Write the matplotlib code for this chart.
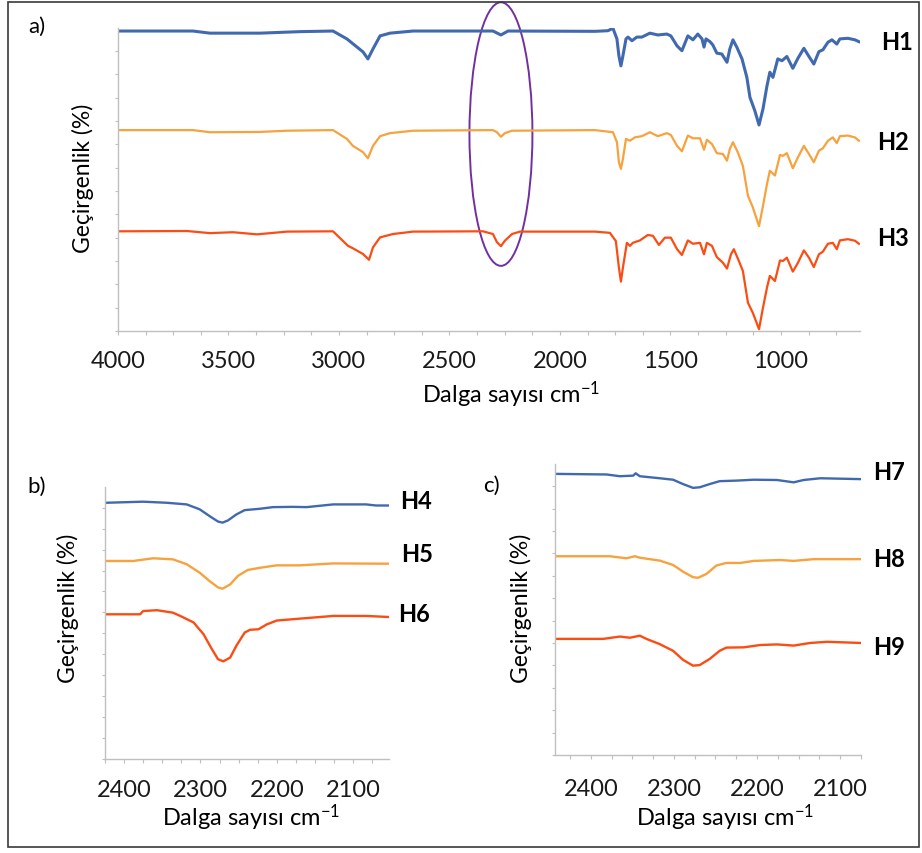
import matplotlib
matplotlib.use("Agg")
import matplotlib.pyplot as plt
from matplotlib.patches import Ellipse, Rectangle
from matplotlib.ticker import MultipleLocator

plt.rcParams['font.family'] = ['Lato', 'DejaVu Sans']
plt.rcParams['mathtext.fontset'] = 'custom'
plt.rcParams['mathtext.rm'] = 'Lato'
plt.rcParams['mathtext.default'] = 'rm'

# ---------------- data: panel a (full spectra) ----------------
wn_h1 = [4000, 3661, 3584, 3357, 3176, 3027, 2964, 2891, 2869, 2846, 2814, 2769, 2665,
         2303, 2267, 2235, 1842, 1783, 1760, 1742, 1733, 1724, 1715, 1701, 1692, 1674,
         1652, 1629, 1593, 1557, 1516, 1498, 1470, 1448, 1421, 1398, 1376, 1357, 1348,
         1339, 1321, 1308, 1290, 1267, 1244, 1231, 1217, 1199, 1176, 1154, 1140, 1118,
         1099, 1081, 1063, 1050, 1036, 1014, 995, 973, 946, 923, 896, 873, 851, 828,
         810, 787, 769, 747, 733, 697, 665, 647]
t_h1 = [99.0, 99.0, 98.3, 98.3, 98.8, 99.0, 96.4, 92.1, 89.8, 93.1, 97.4, 98.3, 99.0,
        99.0, 97.7, 99.0, 98.9, 99.1, 99.9, 96.4, 90.8, 87.5, 90.8, 96.4, 97.0, 95.8,
        97.0, 97.0, 98.3, 97.7, 98.0, 97.4, 94.1, 92.5, 97.4, 96.1, 98.0, 96.4, 93.7,
        96.4, 95.5, 94.4, 91.7, 91.4, 88.7, 93.1, 96.1, 93.6, 89.8, 83.7, 77.1, 72.7,
        68.0, 73.3, 80.9, 85.4, 83.7, 89.8, 89.2, 90.6, 86.7, 90.0, 93.3, 90.6, 88.1,
        92.2, 92.8, 95.3, 96.1, 94.7, 96.4, 96.6, 96.1, 95.5]

wn_h2 = [4000, 3661, 3584, 3357, 3235, 3027, 2964, 2937, 2891, 2869, 2846, 2814, 2769,
         2665, 2303, 2285, 2267, 2249, 2217, 1842, 1760, 1742, 1733, 1724, 1715, 1701,
         1683, 1661, 1629, 1593, 1557, 1516, 1498, 1470, 1448, 1421, 1398, 1366, 1348,
         1335, 1312, 1290, 1262, 1244, 1231, 1217, 1195, 1172, 1149, 1127, 1099, 1081,
         1063, 1050, 1027, 1004, 991, 973, 946, 923, 896, 873, 851, 828, 810, 787, 765,
         747, 733, 697, 665, 647]
t_h2 = [66.3, 66.3, 65.6, 65.7, 66.1, 66.3, 63.4, 61.1, 59.0, 57.0, 61.1, 64.3, 65.3,
        66.1, 66.3, 65.6, 64.1, 65.3, 66.1, 66.3, 65.6, 62.3, 55.7, 53.5, 56.8, 63.4,
        62.8, 63.9, 64.3, 65.6, 64.3, 65.3, 64.7, 61.1, 59.3, 64.5, 63.6, 63.6, 59.8,
        63.1, 61.7, 58.7, 58.4, 56.2, 60.1, 62.3, 59.0, 54.5, 44.6, 40.8, 34.6, 41.3,
        48.5, 52.9, 51.3, 58.1, 57.8, 58.7, 53.7, 57.3, 61.1, 58.4, 55.7, 59.5, 60.3,
        62.8, 63.9, 62.0, 64.3, 64.5, 63.9, 62.8]

wn_h3 = [4000, 3688, 3584, 3480, 3371, 3235, 3027, 2959, 2937, 2891, 2864, 2846, 2814,
         2756, 2665, 2348, 2303, 2285, 2267, 2249, 2217, 2181, 1842, 1774, 1747, 1733,
         1724, 1715, 1697, 1683, 1670, 1638, 1602, 1579, 1552, 1525, 1498, 1470, 1448,
         1421, 1398, 1366, 1348, 1335, 1312, 1290, 1262, 1244, 1226, 1213, 1190, 1172,
         1149, 1127, 1099, 1081, 1063, 1050, 1027, 1004, 991, 973, 946, 923, 896, 873,
         851, 828, 810, 787, 765, 747, 733, 697, 665, 647]
t_h3 = [32.9, 33.0, 32.3, 32.6, 31.9, 32.8, 32.9, 28.1, 27.3, 25.4, 23.5, 27.6, 30.9,
        32.0, 32.8, 32.9, 32.0, 29.3, 28.0, 29.8, 32.0, 32.8, 32.8, 32.4, 29.7, 20.9,
        16.3, 20.9, 29.1, 28.1, 29.1, 29.9, 31.7, 31.4, 28.4, 30.8, 30.8, 27.0, 25.1,
        29.9, 28.8, 29.1, 25.3, 29.1, 28.1, 24.4, 22.5, 20.6, 25.3, 27.0, 23.1, 19.8,
        9.3, 6.0, 0.6, 7.7, 14.3, 18.2, 16.5, 23.3, 23.1, 24.2, 19.6, 22.5, 26.6, 24.2,
        21.1, 25.3, 26.2, 28.8, 29.1, 27.0, 29.9, 30.3, 29.8, 28.8]

# ---------------- data: panel b ----------------
wn_h4 = [2424, 2375, 2344, 2318, 2301, 2288, 2277, 2271, 2264, 2253, 2242, 2222, 2205,
         2179, 2161, 2126, 2083, 2070, 2053]
t_h4 = [94.2, 94.6, 94.2, 93.6, 91.8, 89.3, 87.3, 86.9, 87.7, 89.9, 91.5, 92.0, 92.6,
        92.7, 92.6, 93.6, 93.6, 93.2, 93.2]
wn_h5 = [2424, 2388, 2362, 2336, 2318, 2301, 2288, 2277, 2271, 2261, 2251, 2238, 2222,
         2200, 2170, 2126, 2053]
t_h5 = [72.8, 72.8, 73.8, 73.4, 71.6, 68.5, 65.4, 63.1, 62.6, 64.2, 67.3, 69.5, 70.3,
        71.2, 71.2, 71.9, 71.8]
wn_h6 = [2424, 2379, 2375, 2357, 2336, 2325, 2309, 2296, 2285, 2277, 2270, 2261, 2253,
         2242, 2235, 2224, 2213, 2200, 2170, 2126, 2083, 2053]
t_h6 = [53.2, 53.2, 54.4, 54.7, 53.8, 52.4, 50.2, 45.9, 40.4, 36.7, 35.9, 37.3, 41.6,
        46.5, 47.5, 47.7, 49.5, 50.9, 51.6, 52.6, 52.6, 52.2]

# ---------------- data: panel c ----------------
wn_h7 = [2441, 2381, 2365, 2349, 2346, 2341, 2317, 2301, 2289, 2277, 2269, 2257, 2245,
         2224, 2204, 2176, 2156, 2144, 2124, 2075]
t_h7 = [96.6, 96.4, 95.8, 96.0, 96.8, 95.8, 95.1, 94.6, 93.1, 91.8, 92.0, 93.1, 94.1,
        94.3, 94.6, 94.5, 93.7, 94.5, 95.1, 94.8]
wn_h8 = [2441, 2377, 2357, 2347, 2341, 2317, 2301, 2289, 2277, 2271, 2261, 2249, 2237,
         2220, 2204, 2172, 2156, 2132, 2075]
t_h8 = [68.3, 68.3, 67.6, 68.3, 67.8, 66.8, 65.3, 63.0, 61.1, 60.9, 62.2, 65.1, 66.0,
        66.0, 66.7, 67.0, 66.7, 67.3, 67.3]
wn_h9 = [2441, 2385, 2365, 2353, 2341, 2333, 2317, 2301, 2289, 2277, 2269, 2257, 2245,
         2237, 2216, 2196, 2176, 2156, 2136, 2116, 2075]
t_h9 = [39.9, 39.9, 40.7, 40.3, 41.0, 39.9, 38.1, 35.8, 32.7, 30.7, 30.9, 33.0, 35.8,
        36.9, 37.0, 37.8, 38.0, 37.6, 38.5, 38.9, 38.5]

labels_a = ["H1", "H2", "H3"]
labels_b = ["H4", "H5", "H6"]
labels_c = ["H7", "H8", "H9"]
xticks_a = [4000, 3500, 3000, 2500, 2000, 1500, 1000]
xticks_bc = [2400, 2300, 2200, 2100]
ylabel = "Geçirgenlik (%)"
xlabel = "Dalga sayısı cm$^{-1}$"

BLUE = "#4169B0"
ORANGE = "#F7A23E"
RED = "#FB4C14"
GRAY = "#BFBFBF"

W, H = 922, 854
fig = plt.figure(figsize=(W / 100, H / 100), dpi=100)


def ax_at(left, top, right, bottom):
    return fig.add_axes([left / W, 1 - bottom / H, (right - left) / W, (bottom - top) / H])


def ftext(x, y, s, **kw):
    fig.text(x / W, 1 - y / H, s, ha="center", va="center", **kw)


def style(ax, xlim, major, minor, pad):
    ax.set_xlim(*xlim)
    ax.set_ylim(0, 100)
    for s in ("top", "right"):
        ax.spines[s].set_visible(False)
    for s in ("left", "bottom"):
        ax.spines[s].set_color(GRAY)
        ax.spines[s].set_linewidth(1.0)
    ax.xaxis.set_major_locator(MultipleLocator(major))
    ax.xaxis.set_minor_locator(MultipleLocator(minor))
    ax.yaxis.set_major_locator(MultipleLocator(7.7))
    ax.tick_params(axis="x", which="both", direction="out", color=GRAY, length=3,
                   width=0.8, labelsize=17, pad=pad, labelcolor="#1a1a1a")
    ax.tick_params(axis="y", which="both", direction="out", color=GRAY, length=2.5,
                   width=0.8, labelleft=False)


# ---- panel a ----
axa = ax_at(118, 29, 860, 332)
axa.plot(wn_h1, t_h1, color=BLUE, lw=2.2, solid_joinstyle="round")
axa.plot(wn_h2, t_h2, color=ORANGE, lw=1.6, solid_joinstyle="round")
axa.plot(wn_h3, t_h3, color=RED, lw=1.6, solid_joinstyle="round")
style(axa, (4000, 642), 500, 125, 10.5)
axa.set_xticks(xticks_a)
axa.add_patch(Ellipse((2267, 65), 285, 87, fill=False, ec="#7030A0", lw=1.4,
                      clip_on=False))
ftext(37, 27, "a)", fontsize=16)
ftext(83, 178, ylabel, fontsize=16.5, rotation=90)
ftext(511, 395, xlabel, fontsize=17)
ftext(897, 43, labels_a[0], fontsize=17, fontweight="bold")
ftext(893, 143, labels_a[1], fontsize=17, fontweight="bold")
ftext(893, 238, labels_a[2], fontsize=17, fontweight="bold")

# ---- panel b ----
axb = ax_at(105, 488, 389, 760)
axb.plot(wn_h4, t_h4, color=BLUE, lw=1.7, solid_joinstyle="round")
axb.plot(wn_h5, t_h5, color=ORANGE, lw=1.7, solid_joinstyle="round")
axb.plot(wn_h6, t_h6, color=RED, lw=1.7, solid_joinstyle="round")
style(axb, (2425, 2053), 100, 25, 11.5)
axb.set_xticks(xticks_bc)
ftext(37, 487, "b)", fontsize=16)
ftext(68, 608, ylabel, fontsize=16.5, rotation=90)
ftext(251, 818, xlabel, fontsize=17)
ftext(416, 502, labels_b[0], fontsize=17, fontweight="bold")
ftext(417, 554, labels_b[1], fontsize=17, fontweight="bold")
ftext(414, 615, labels_b[2], fontsize=17, fontweight="bold")

# ---- panel c ----
axc = ax_at(555, 465, 861, 756)
axc.plot(wn_h7, t_h7, color=BLUE, lw=1.7, solid_joinstyle="round")
axc.plot(wn_h8, t_h8, color=ORANGE, lw=1.7, solid_joinstyle="round")
axc.plot(wn_h9, t_h9, color=RED, lw=1.7, solid_joinstyle="round")
style(axc, (2443, 2075), 100, 25, 13.5)
axc.set_xticks(xticks_bc)
ftext(491, 486, "c)", fontsize=16)
ftext(521, 608, ylabel, fontsize=16.5, rotation=90)
ftext(725, 818, xlabel, fontsize=17)
ftext(889, 473, labels_c[0], fontsize=17, fontweight="bold")
ftext(889, 560, labels_c[1], fontsize=17, fontweight="bold")
ftext(889, 648, labels_c[2], fontsize=17, fontweight="bold")

# outer frame
fig.patches.append(Rectangle((8 / W, 1 - 848 / H), (919 - 8) / W, (848 - 3) / H,
                             transform=fig.transFigure, fill=False, ec="#3a3a3a",
                             lw=1.2))

fig.savefig("out.png", dpi=100)
